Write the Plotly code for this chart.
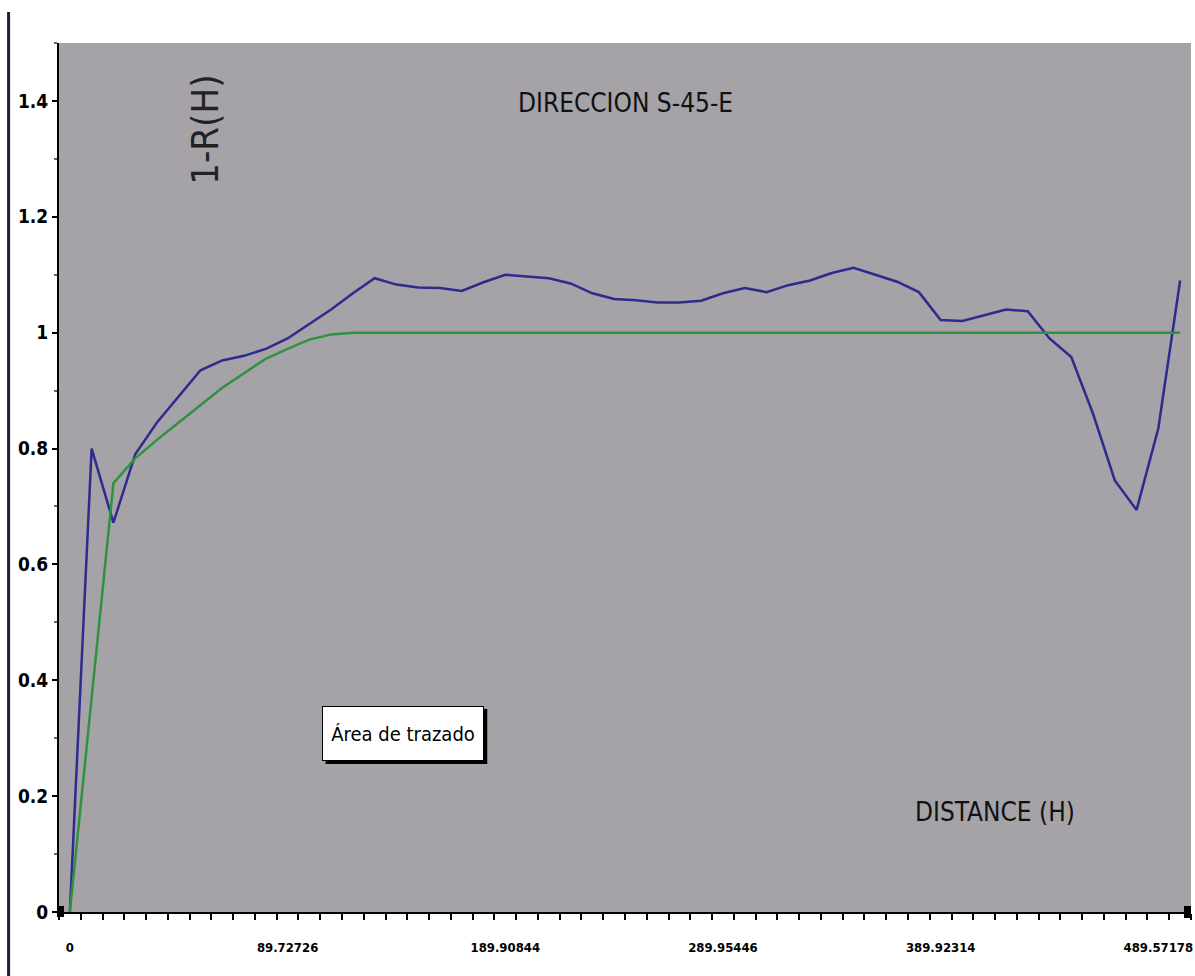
import plotly.graph_objects as go

# Lag classes (one category per lag step) and the distance labels shown on the axis
lag_index = list(range(52))
label_positions = [0, 10, 20, 30, 40, 50]
distance_labels = ["0", "89.72726", "189.90844", "289.95446", "389.92314", "489.57178"]

# Experimental 1-R(H) values, direction S-45-E
experimental = [
    0.0, 0.80, 0.672, 0.79, 0.845, 0.89, 0.935, 0.952, 0.96, 0.972,
    0.99, 1.015, 1.04, 1.068, 1.094, 1.083, 1.078, 1.077, 1.072, 1.087,
    1.10, 1.097, 1.094, 1.085, 1.068, 1.058, 1.056, 1.052, 1.052, 1.055,
    1.068, 1.077, 1.07, 1.082, 1.09, 1.103, 1.112, 1.10, 1.088, 1.07,
    1.022, 1.02, 1.03, 1.04, 1.037, 0.99, 0.958, 0.86, 0.745, 0.694,
    0.835, 1.09,
]

# Fitted model
model = [
    0.0, 0.37, 0.74, 0.783, 0.815, 0.845, 0.875, 0.905, 0.93, 0.955,
    0.972, 0.988, 0.997,
] + [1.0] * 39

y_ticks = [0, 0.2, 0.4, 0.6, 0.8, 1.0, 1.2, 1.4]
y_ticktext = ["0", "0.2", "0.4", "0.6", "0.8", "1", "1.2", "1.4"]

NARROW = "Liberation Sans Narrow, Arial Narrow, DejaVu Sans Condensed, sans-serif"

W, H = 1195, 976
ML, MR, MT, MB = 59, 2, 43, 64
PW, PH = W - ML - MR, H - MT - MB


def px(x):
    return (x - ML) / PW


def py(y):
    return (H - MB - y) / PH


fig = go.Figure()
fig.add_trace(go.Scatter(
    x=lag_index, y=experimental, mode="lines",
    line=dict(color="#2e2a8e", width=2.5), hoverinfo="skip",
))
fig.add_trace(go.Scatter(
    x=lag_index, y=model, mode="lines",
    line=dict(color="#2f9240", width=2.5), hoverinfo="skip",
))

fig.update_layout(
    width=W, height=H,
    margin=dict(l=ML, r=MR, t=MT, b=MB),
    paper_bgcolor="white",
    plot_bgcolor="#a5a3a7",
    showlegend=False,
    xaxis=dict(
        range=[-0.5, 51.5],
        tickvals=label_positions, ticktext=distance_labels,
        ticks="", showgrid=False, zeroline=False,
        showline=True, linecolor="black", linewidth=2,
        tickfont=dict(family=NARROW, size=13, color="black", weight="bold"),
        ticklabelstandoff=22, ticklabeloverflow="allow",
        minor=dict(tick0=0.5, dtick=1, ticks="outside", ticklen=6,
                   tickcolor="black", tickwidth=2, showgrid=False),
    ),
    yaxis=dict(
        range=[0, 1.5],
        tickvals=y_ticks, ticktext=y_ticktext,
        ticks="outside", ticklen=5, tickcolor="black", tickwidth=1.5,
        showgrid=False, zeroline=False,
        showline=True, linecolor="black", linewidth=2,
        tickfont=dict(family=NARROW, size=19, color="black", weight="bold"),
        minor=dict(dtick=0.1, ticks="outside", ticklen=3,
                   tickcolor="#666", showgrid=False),
    ),
)

annotations = [
    dict(text="DIRECCION S-45-E", x=px(627), y=py(103),
         font=dict(family=NARROW, size=26, color="#111")),
    dict(text="1-R(H)", x=px(205), y=py(130), textangle=-90,
         font=dict(family=NARROW, size=38, color="#222")),
    dict(text="DISTANCE (H)", x=px(997), y=py(812),
         font=dict(family=NARROW, size=26, color="#111")),
    dict(text="Área de trazado", x=px(404), y=py(733),
         font=dict(family=NARROW, size=20, color="black"),
         bgcolor="white", bordercolor="black", borderwidth=1,
         width=156, height=49, borderpad=2),
]
for a in annotations:
    a.update(xref="paper", yref="paper", showarrow=False,
             xanchor="center", yanchor="middle")
fig.update_layout(annotations=annotations)

shapes = [
    # page border on the left
    dict(type="line", xref="paper", yref="paper",
         x0=px(8.5), x1=px(8.5), y0=py(12), y1=py(976),
         line=dict(color="#1c1c48", width=3)),
    # drop shadow behind the label box
    dict(type="rect", xref="paper", yref="paper",
         x0=px(326), x1=px(488), y0=py(764), y1=py(709),
         fillcolor="black", line=dict(width=0), layer="above"),
    # selection handles at the ends of the category axis
    dict(type="rect", xref="paper", yref="paper",
         x0=px(57), x1=px(64), y0=py(917), y1=py(906),
         fillcolor="black", line=dict(width=0)),
    dict(type="rect", xref="paper", yref="paper",
         x0=px(1186), x1=px(1193), y0=py(918), y1=py(906),
         fillcolor="black", line=dict(width=0)),
]
fig.update_layout(shapes=shapes)

fig.write_html("out.html", config=dict(displayModeBar=False))
